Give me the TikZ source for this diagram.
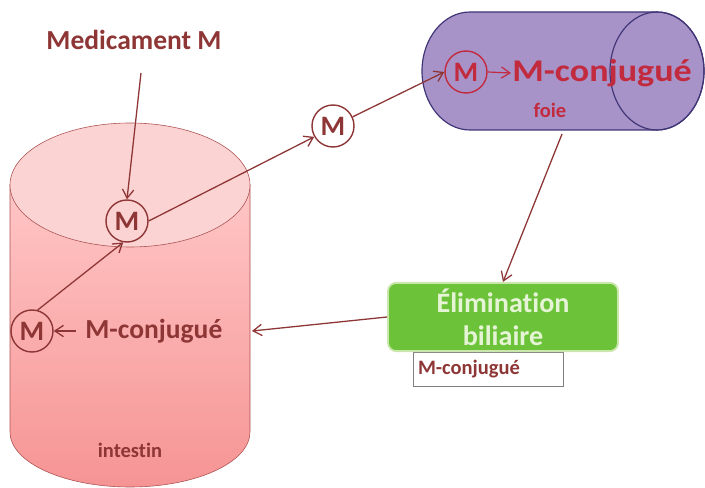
\documentclass[tikz,border=0pt]{standalone}
\usepackage{fontspec}
\setmainfont{Carlito}[Ligatures={NoCommon}]
\usepackage{graphicx}
\usepackage{xcolor}
\usetikzlibrary{arrows.meta,positioning,shapes,calc}
\definecolor{ink}{HTML}{8E3636}
\definecolor{brightred}{HTML}{C22A3E}
\definecolor{gutline}{HTML}{AD5252}
\definecolor{guttop}{HTML}{FCD3D3}
\definecolor{gutlight}{HTML}{FFC6C6}
\definecolor{gutdark}{HTML}{F69494}
\definecolor{liverfill}{HTML}{A893C9}
\definecolor{liverline}{HTML}{3F3475}
\definecolor{greenbox}{HTML}{6CC33A}
\definecolor{greenedge}{HTML}{CBE7AE}
\definecolor{greentext}{HTML}{E6F4D6}
\definecolor{boxgray}{HTML}{808080}
\tikzset{
  bigtext/.style={font=\fontsize{23.5}{27}\selectfont\bfseries,text=ink,inner sep=1pt},
  smalltext/.style={font=\fontsize{17.5}{20}\selectfont\bfseries,text=ink,inner sep=1pt},
  molecule/.style={circle,draw=ink,line width=1.2pt,minimum size=1.26cm,inner sep=0pt,
                   font=\fontsize{24}{26}\selectfont\bfseries,text=ink},
  flowarr/.style={-{Straight Barb[length=2.6mm,width=3.4mm]},line width=1.1pt,draw=ink},
  elimbox/.style={draw=greenedge,fill=greenbox,line width=1.6pt,rounded corners=7pt,
                  minimum width=6.9cm,minimum height=2.05cm,align=center,
                  font=\fontsize{24}{28}\selectfont\bfseries,text=greentext},
  notebox/.style={draw=boxgray,line width=0.5pt,minimum width=4.5cm,minimum height=1.02cm,
                  text width=4.2cm,align=left,font=\fontsize{17.5}{20}\selectfont\bfseries,text=ink}
}

\begin{document}
\begin{tikzpicture}[x=0.03cm,y=-0.03cm]
  \useasboundingbox (0,0) rectangle (705,488);

  % intestin
  \shade[top color=gutlight,bottom color=gutdark,draw=gutline,line width=0.5pt]
    (10,185) -- (10,432) arc[start angle=180,end angle=0,x radius=120,y radius=55]
    -- (250,185) -- cycle;
  \filldraw[fill=guttop,draw=gutline,line width=0.5pt] (130,185) ellipse [x radius=120,y radius=62];
  \node[smalltext] (lblInt) at (130,450) {intestin};

  % foie
  \filldraw[fill=liverfill,draw=liverline,line width=1pt]
    (470,12) -- (657,12) arc[start angle=270,end angle=450,x radius=47,y radius=59]
    -- (470,130) arc[start angle=90,end angle=270,x radius=48,y radius=59] -- cycle;
  \draw[liverline,line width=1pt] (657,71) ellipse [x radius=47,y radius=59];
  \node[smalltext,text=brightred] (lblFoie) at (550,110) {foie};

  \node[bigtext] (med) at (134,40) {Medicament M};
  \node[molecule] (mA) at (127,221) {M};
  \node[molecule] (mB) at (333,126) {M};
  \node[molecule] (mC) at (32,331) {M};
  \node[molecule,draw=brightred,text=brightred] (mD) at (466,72) {M};
  \node[bigtext,anchor=west] (conjL) at (84,331) {M-conjugué};
  \node[bigtext,anchor=west,text=brightred,font=\fontsize{27}{30}\selectfont\bfseries]
    (conjF) at (511,73) {\scalebox{1.14}[1]{M-conjugué}};

  \node[notebox] (conjB) at (488,369) {M-conjugué};
  \node[elimbox] (elim) at (503,317) {Élimination\\biliaire};

  \coordinate (medtail) at (141,73);
  \coordinate (foiebot) at (562,134);
  \coordinate (gutR) at (252,331);

  \draw[flowarr] (medtail) -- (mA.north);
  \draw[flowarr] (mC.75) -- (mA.260);
  \draw[flowarr] (mA.east) -- (mB.210);
  \draw[flowarr] (mB.25) -- (mD.west);
  \draw[flowarr,draw=brightred,line width=1pt] (mD.east) -- (conjF.west);
  \draw[flowarr] (foiebot) -- (elim.north);
  \draw[flowarr] (elim.west) -- (gutR);
  \draw[flowarr,shorten <=7pt] (conjL.west) -- (mC.east);
\end{tikzpicture}
\end{document}
